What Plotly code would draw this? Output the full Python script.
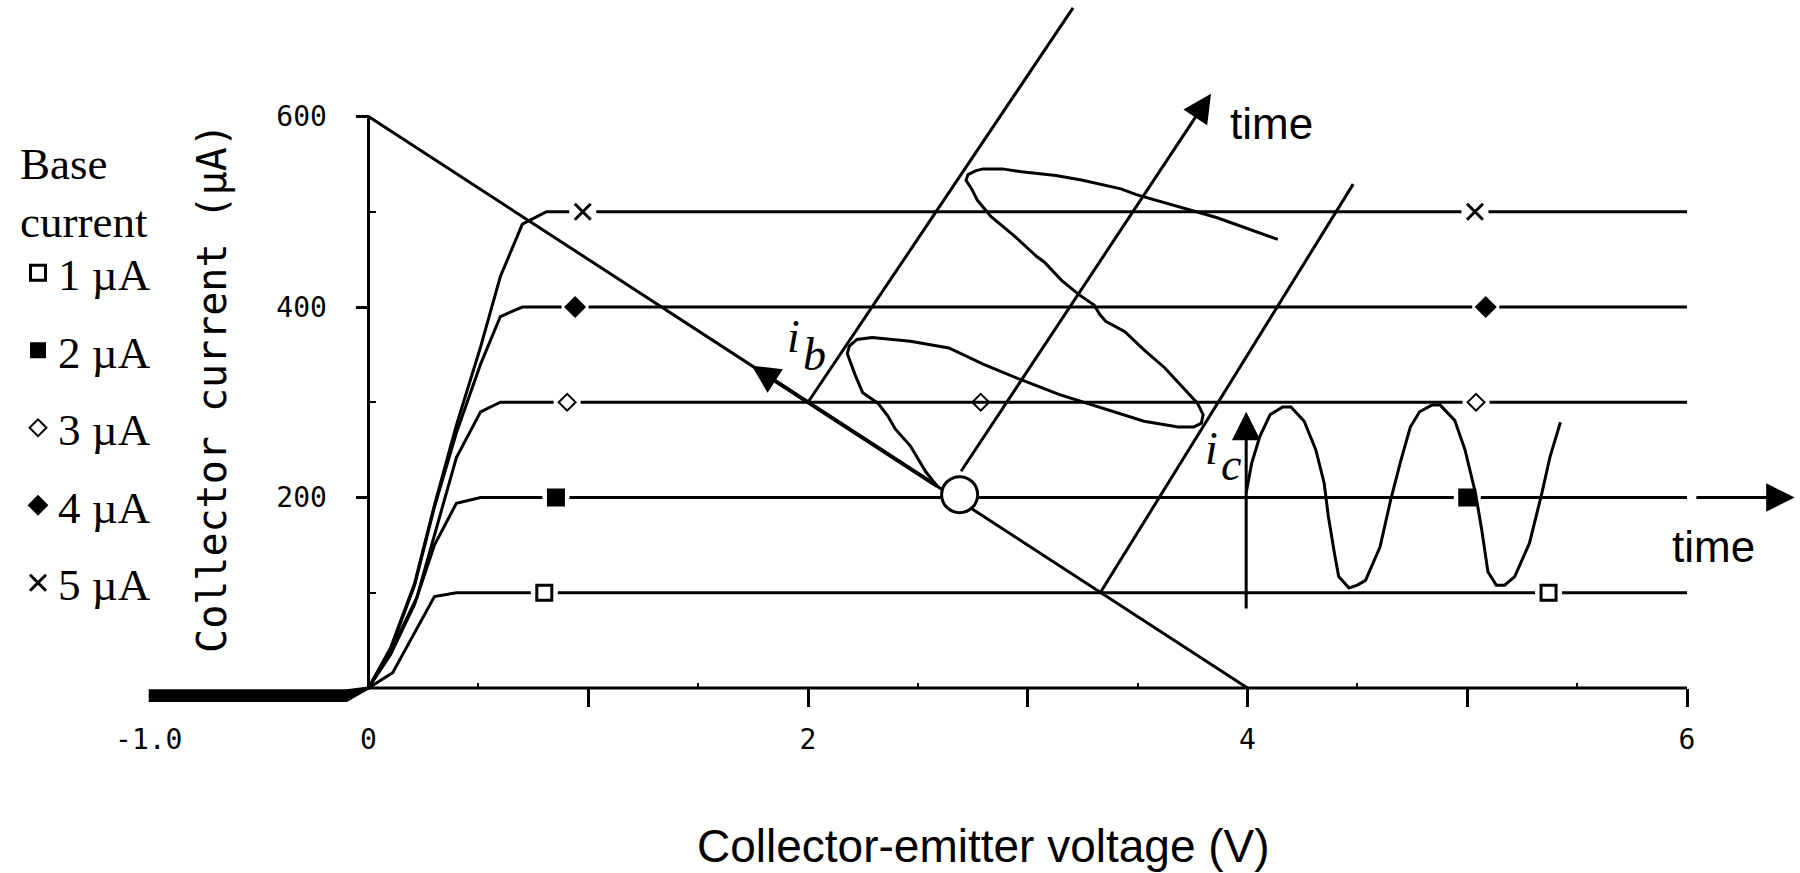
import plotly.graph_objects as go

# ---------------- values ----------------
base_current_labels = ["1 µA", "2 µA", "3 µA", "4 µA", "5 µA"]

# output characteristics: collector-emitter voltage (V) / collector current (µA)
vce_1ua = [-1.0, -0.10, 0.0, 0.11, 0.30, 0.40, 6.0]
ic_1ua = [-3, -3, 0, 16, 96, 100, 100]
vce_2ua = [-1.0, -0.10, 0.0, 0.10, 0.21, 0.30, 0.40, 0.51, 6.0]
ic_2ua = [-5.5, -5.5, 0, 35, 88, 150, 194, 200, 200]
vce_3ua = [-1.0, -0.10, 0.0, 0.10, 0.22, 0.30, 0.40, 0.51, 0.60, 6.0]
ic_3ua = [-8, -8, 0, 38, 95, 160, 242, 290, 300, 300]
vce_4ua = [-1.0, -0.10, 0.0, 0.10, 0.21, 0.30, 0.40, 0.51, 0.60, 0.70, 6.0]
ic_4ua = [-10.5, -10.5, 0, 40, 108, 190, 268, 340, 390, 400, 400]
vce_5ua = [-1.0, -0.10, 0.0, 0.10, 0.21, 0.30, 0.40, 0.51, 0.60, 0.70, 0.81, 6.0]
ic_5ua = [-13, -13, 0, 42, 110, 192, 276, 358, 432, 487, 500, 500]

# symbols placed on each curve
mark_v_1ua = [0.80, 5.37]
mark_i_1ua = [100, 100]
mark_v_2ua = [0.853, 5.00]
mark_i_2ua = [200, 200]
mark_v_3ua = [0.904, 2.786, 5.04]
mark_i_3ua = [300, 300, 300]
mark_v_4ua = [0.94, 5.084]
mark_i_4ua = [400, 400]
mark_v_5ua = [0.975, 5.035]
mark_i_5ua = [500, 500]

# load line and operating point
load_v = [0.0, 4.0]
load_i = [600, 0]
q_v = [2.69]
q_i = [203]
load_arrow_tail = (2.667, 200)
load_arrow_tip = (1.744, 338.4)

# oblique time axes for the base-current drawing
ib_left_v = [2.0, 3.206]
ib_left_i = [300, 714]
ib_time_tail = (2.692, 226)
ib_time_tip = (3.834, 624)
ib_right_v = [3.33, 4.481]
ib_right_i = [100, 529]

# base-current waveform (drawn along the oblique time axis)
ib_wave_v = [2.588, 2.536, 2.466, 2.397, 2.362, 2.318, 2.249, 2.214, 2.179, 2.188,
             2.223, 2.292, 2.466, 2.641, 2.797, 2.954, 3.145, 3.267, 3.424, 3.529,
             3.685, 3.755, 3.790, 3.798, 3.772, 3.720, 3.624, 3.529, 3.442, 3.355,
             3.328, 3.302, 3.233, 3.154, 3.076, 3.041, 2.937, 2.832, 2.771, 2.745,
             2.719, 2.728, 2.762, 2.797, 2.884, 2.972, 3.128, 3.250, 3.424, 3.494,
             3.598, 3.755, 3.859, 4.138]
ib_wave_i = [212, 227, 254, 272, 286, 299, 310, 329, 351, 359,
             366, 368, 364, 357, 340, 325, 308, 299, 287, 280,
             274, 274, 278, 287, 299, 312, 336, 355, 374, 385,
             392, 402, 413, 428, 447, 453, 475, 495, 512, 524,
             533, 539, 543, 545, 545, 542, 538, 533, 524, 518,
             511, 501, 494, 471]

# collector-current waveform
ic_wave_v = [3.994, 4.019, 4.056, 4.103, 4.160, 4.198, 4.258, 4.311, 4.349, 4.368,
             4.396, 4.415, 4.462, 4.500, 4.537, 4.603, 4.651, 4.698, 4.741, 4.783,
             4.839, 4.877, 4.943, 4.990, 5.038, 5.066, 5.094, 5.132, 5.170, 5.216,
             5.283, 5.339, 5.377, 5.424]
ic_wave_i = [205, 236, 264, 287, 295, 295, 280, 250, 215, 180,
             141, 117, 105, 108, 113, 148, 197, 239, 274, 290,
             297, 297, 281, 250, 204, 166, 122, 108, 108, 117,
             152, 204, 243, 279]
ic_axis_tail = (3.994, 82)
ic_axis_tip = (3.994, 290)
time_axis_tail = (6.036, 200)
time_axis_tip = (6.49, 200)

# axis ticks and labels
x_tick_vals = [1, 2, 3, 4, 5, 6]
x_minor_vals = [0.5, 1.5, 2.5, 3.5, 4.5, 5.5]
x_label_vals = [-1.0, 0, 2, 4, 6]
x_label_text = ["-1.0", "0", "2", "4", "6"]
y_tick_vals = [200, 400, 600]
y_minor_vals = [100, 300, 500]

# ---------------- geometry of the canvas ----------------
W, H = 1800, 873
X0_PX, PX_PER_V = 368.5, 219.75
Y0_PX, PX_PER_UA = 688.0, 0.9525
PLOT_BOTTOM_PX = 776.0
X_RANGE = [-X0_PX / PX_PER_V, (W - X0_PX) / PX_PER_V]
Y_RANGE = [(Y0_PX - PLOT_BOTTOM_PX) / PX_PER_UA, Y0_PX / PX_PER_UA]


def px(x):
    return x / W


def py(y):
    return 1 - y / H


INK = "black"
SERIF = "Liberation Serif"
SANS = "Liberation Sans"
MONO = "DejaVu Sans Mono"

fig = go.Figure()

curves_v = [vce_1ua, vce_2ua, vce_3ua, vce_4ua, vce_5ua]
curves_i = [ic_1ua, ic_2ua, ic_3ua, ic_4ua, ic_5ua]
for v, i in zip(curves_v, curves_i):
    fig.add_trace(go.Scatter(x=v, y=i, mode="lines", line=dict(color=INK, width=3),
                             showlegend=False, hoverinfo="skip"))

marks_v = [mark_v_1ua, mark_v_2ua, mark_v_3ua, mark_v_4ua, mark_v_5ua]
marks_i = [mark_i_1ua, mark_i_2ua, mark_i_3ua, mark_i_4ua, mark_i_5ua]

# white gaps that break the curves around their symbols
halo_v, halo_i = [], []
for k, (mv, mi) in enumerate(zip(marks_v, marks_i)):
    for j, (a, b) in enumerate(zip(mv, mi)):
        if k == 2 and j == 1:
            continue
        halo_v.append(a)
        halo_i.append(b)
fig.add_trace(go.Scatter(x=halo_v, y=halo_i, mode="markers",
                         marker=dict(symbol="square", size=27, color="white"),
                         showlegend=False, hoverinfo="skip"))

marker_styles = [
    dict(symbol="square", size=15, color="white", line=dict(color=INK, width=3)),
    dict(symbol="square", size=18, color=INK),
    dict(symbol="diamond-open", size=13, color=INK, line=dict(width=2)),
    dict(symbol="diamond", size=17, color=INK),
    dict(symbol="x-thin-open", size=16, color=INK, line=dict(width=3)),
]
for k, (mv, mi) in enumerate(zip(marks_v, marks_i)):
    fig.add_trace(go.Scatter(x=mv, y=mi, mode="markers", marker=marker_styles[k],
                             name=base_current_labels[k], legendgroup=str(k)))

fig.add_trace(go.Scatter(x=load_v, y=load_i, mode="lines", line=dict(color=INK, width=3),
                         showlegend=False, hoverinfo="skip"))
fig.add_trace(go.Scatter(x=ib_left_v, y=ib_left_i, mode="lines", line=dict(color=INK, width=3),
                         showlegend=False, hoverinfo="skip"))
fig.add_trace(go.Scatter(x=ib_right_v, y=ib_right_i, mode="lines", line=dict(color=INK, width=3),
                         showlegend=False, hoverinfo="skip"))
fig.add_trace(go.Scatter(x=ib_wave_v, y=ib_wave_i, mode="lines", line=dict(color=INK, width=3),
                         showlegend=False, hoverinfo="skip"))
fig.add_trace(go.Scatter(x=ic_wave_v, y=ic_wave_i, mode="lines", line=dict(color=INK, width=3),
                         xaxis="x2", showlegend=False, hoverinfo="skip"))
fig.add_trace(go.Scatter(x=q_v, y=q_i, mode="markers",
                         marker=dict(symbol="circle", size=36, color="white", line=dict(color=INK, width=3)),
                         showlegend=False, hoverinfo="skip"))

# axis lines limited to the drawn range
fig.add_shape(type="line", xref="x", yref="y", x0=0, y0=0, x1=max(x_tick_vals), y1=0,
              line=dict(color=INK, width=3), layer="below")
fig.add_shape(type="line", xref="x", yref="y", x0=0, y0=0, x1=0, y1=max(y_tick_vals),
              line=dict(color=INK, width=3), layer="below")


def arrow(tail, tip, width, size, startstandoff=0):
    fig.add_annotation(x=tip[0], y=tip[1], ax=tail[0], ay=tail[1], xref="x", yref="y",
                       axref="x", ayref="y", text="", showarrow=True, arrowhead=2,
                       arrowwidth=width, arrowsize=size, arrowcolor=INK,
                       startstandoff=startstandoff)


arrow(load_arrow_tail, load_arrow_tip, 4, 1.4, startstandoff=19)
arrow(ib_time_tail, ib_time_tip, 3, 1.9)
arrow(ic_axis_tail, ic_axis_tip, 3, 1.9)
arrow(time_axis_tail, time_axis_tip, 3, 1.9)


def label(text, x, y, font, size, xanchor="left"):
    fig.add_annotation(x=px(x), y=py(y), xref="paper", yref="paper", text=text, showarrow=False,
                       xanchor=xanchor, yanchor="middle", font=dict(family=font, size=size, color=INK))


label("<i>i</i>", 785, 337, SERIF, 46)
label("<i>b</i>", 801, 354, SERIF, 46)
label("<i>i</i>", 1203, 449, SERIF, 46)
label("<i>c</i>", 1219, 464, SERIF, 46)
label("time", 1228, 124, SANS, 44)
label("time", 1670, 546, SANS, 44)
label("Collector-emitter voltage (V)", 983, 846, SANS, 46, xanchor="center")

fig.update_layout(
    width=W, height=H,
    margin=dict(l=0, r=0, t=0, b=0),
    paper_bgcolor="white", plot_bgcolor="white",
    showlegend=True,
    legend=dict(x=px(18), y=py(120), xanchor="left", yanchor="top",
                font=dict(family=SERIF, size=45, color=INK),
                title=dict(text="Base<br>current", font=dict(family=SERIF, size=45, color=INK)),
                bgcolor="rgba(0,0,0,0)", tracegroupgap=16, itemsizing="trace"),
    xaxis=dict(domain=[0, 1], range=X_RANGE, anchor="free", position=py(Y0_PX),
               showgrid=False, zeroline=False, showline=False,
               tickmode="array", tickvals=x_tick_vals, ticks="outside", ticklen=18,
               tickwidth=3, tickcolor=INK, showticklabels=False,
               minor=dict(tickmode="array", tickvals=x_minor_vals, ticks="inside", ticklen=5,
                          tickwidth=2, tickcolor=INK, showgrid=False)),
    xaxis2=dict(overlaying="x", range=X_RANGE, anchor="free", position=py(Y0_PX),
                showgrid=False, zeroline=False, showline=False,
                tickmode="array", tickvals=x_label_vals, ticktext=x_label_text, ticks="",
                tickfont=dict(family=MONO, size=28, color=INK), ticklabelstandoff=32),
    yaxis=dict(domain=[1 - PLOT_BOTTOM_PX / H, 1], range=Y_RANGE, anchor="free",
               position=px(X0_PX), showgrid=False, zeroline=False, showline=False,
               tickmode="array", tickvals=y_tick_vals, ticks="outside", ticklen=13,
               tickwidth=3, tickcolor=INK, ticklabelstandoff=23,
               tickfont=dict(family=MONO, size=28, color=INK),
               minor=dict(tickmode="array", tickvals=y_minor_vals, ticks="inside", ticklen=6,
                          tickwidth=2, tickcolor=INK, showgrid=False),
               title=dict(text="Collector current (µA)", font=dict(family=MONO, size=40, color=INK),
                          standoff=36)),
)

fig.write_html("out.html", config={"displayModeBar": False},
               post_script="document.body.style.margin='0px';")
